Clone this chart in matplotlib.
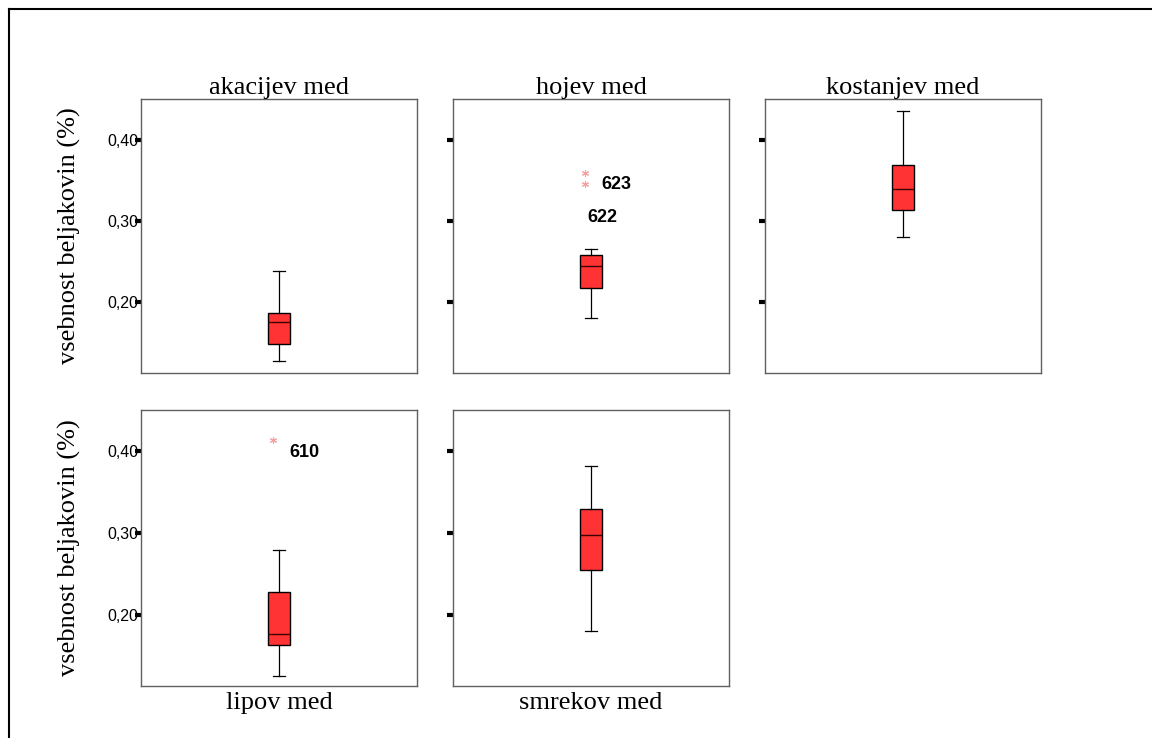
import matplotlib
matplotlib.use("Agg")
import matplotlib.pyplot as plt
from matplotlib.lines import Line2D

# ---- data ----
categories = ["akacijev med", "hojev med", "kostanjev med", "lipov med", "smrekov med"]
whis_lo = [0.128, 0.180, 0.280, 0.125, 0.180]
q1 = [0.148, 0.218, 0.314, 0.163, 0.254]
median = [0.1755, 0.245, 0.339, 0.177, 0.297]
q3 = [0.1865, 0.2577, 0.369, 0.228, 0.329]
whis_hi = [0.239, 0.266, 0.4356, 0.2785, 0.3816]
outliers = [[], [0.3595, 0.346], [], [0.4135], []]
outlier_labels = [[], ["622", "623"], [], ["610"], []]
yticks = [0.20, 0.30, 0.40]
ytick_labels = ["0,20", "0,30", "0,40"]
ylabel = "vsebnost beljakovin (%)"

W, H = 1152, 738
fig = plt.figure(figsize=(W / 100, H / 100), dpi=100)

def ax_rect(x0, y0, x1, y1):
    return [x0 / W, 1 - y1 / H, (x1 - x0) / W, (y1 - y0) / H]

rects = [ax_rect(141, 99, 417, 373), ax_rect(453, 99, 729, 373), ax_rect(765, 99, 1041, 373),
         ax_rect(141, 410, 417, 686), ax_rect(453, 410, 729, 686)]

# label offsets in pixels (dx, dy) relative to outlier marker
label_offsets = {"622": (2, -45), "623": (16, -1), "610": (16, -13)}

serif = "Liberation Serif"
sans = "Liberation Sans"

for i, cat in enumerate(categories):
    ax = fig.add_axes(rects[i])
    stats = [dict(med=median[i], q1=q1[i], q3=q3[i], whislo=whis_lo[i], whishi=whis_hi[i], fliers=[])]
    ax.bxp(stats, positions=[1], widths=0.08, capwidths=0.04, patch_artist=True, showfliers=False,
           boxprops=dict(facecolor="#ff3333", edgecolor="black", linewidth=1.0),
           medianprops=dict(color="#3a0000", linewidth=1.0),
           whiskerprops=dict(color="black", linewidth=0.9),
           capprops=dict(color="black", linewidth=0.9))
    if outliers[i]:
        xs = [1 - 0.022] * len(outliers[i])
        ax.plot(xs, outliers[i], linestyle="none", marker=(6, 2, 0), markersize=5,
                color="#f4a0a0", markeredgewidth=0.8)
        for val, lab in zip(outliers[i], outlier_labels[i]):
            dx, dy = label_offsets[lab]
            ax.annotate(lab, xy=(1 - 0.022, val), xytext=(dx * 0.72, dy * 0.72),
                        textcoords="offset points", ha="left", va="center",
                        fontsize=13, fontweight="bold", family=sans)
    ax.set_xlim(0.5, 1.5)
    ax.set_ylim(0.1129, 0.450)
    ax.set_xticks([])
    ax.set_yticks(yticks)
    if i in (0, 3):
        ax.set_yticklabels(ytick_labels, fontsize=11.5, family=sans)
        ax.set_ylabel(ylabel, fontsize=19, family=serif, labelpad=19)
    else:
        ax.set_yticklabels([])
    ax.tick_params(axis="y", direction="out", length=4, width=3, color="black", pad=-2)
    for s in ax.spines.values():
        s.set_color("#606060")
        s.set_linewidth(1.0)
    if i < 3:
        ax.set_title(cat, fontsize=19, family=serif, pad=2)
    else:
        ax.set_xlabel(cat, fontsize=19, family=serif, labelpad=4)

# outer border (top and left edges visible)
fig.add_artist(Line2D([9 / W, 9 / W], [0, 1 - 9 / H], transform=fig.transFigure, color="black", linewidth=1.5))
fig.add_artist(Line2D([9 / W, 1], [1 - 9 / H, 1 - 9 / H], transform=fig.transFigure, color="black", linewidth=1.5))

fig.savefig("out.png", dpi=100)
